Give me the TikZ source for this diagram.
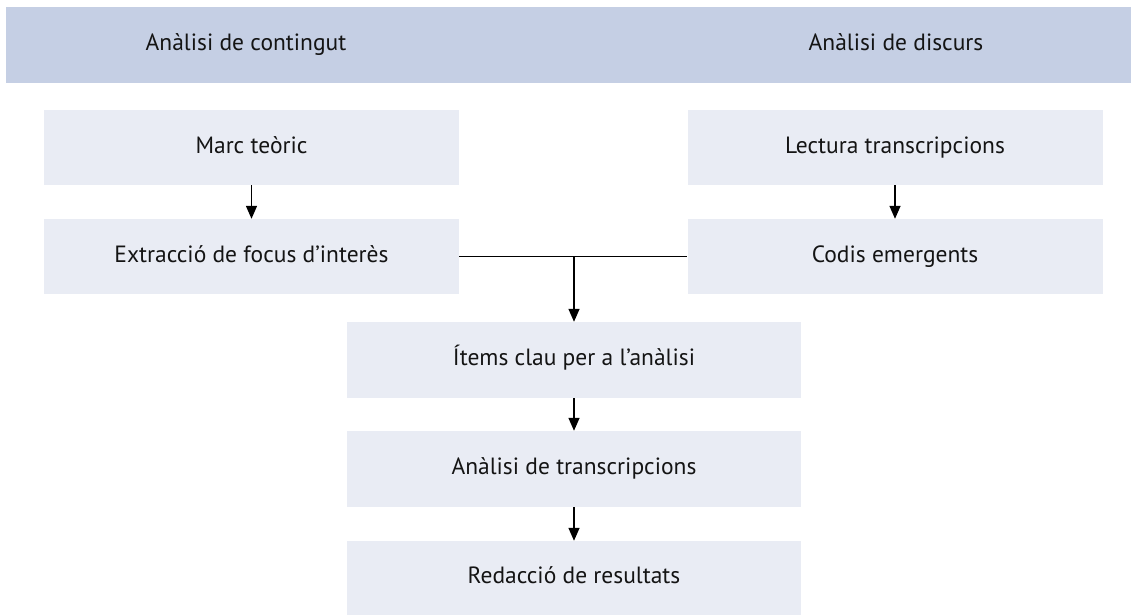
\documentclass[tikz,border=0pt]{standalone}
\usepackage{fontspec}
\setmainfont{PT Sans}
\usetikzlibrary{arrows.meta,calc}
\definecolor{bandblue}{RGB}{197,207,228}
\definecolor{boxgray}{RGB}{233,236,244}
\definecolor{ink}{RGB}{20,20,20}
\tikzset{
  label text/.style={font=\fontsize{23.5}{28}\selectfont, text=ink,
    text height=1.1em, text depth=0pt, inner sep=0pt},
  stepbox/.style={label text, fill=boxgray, minimum height=75pt},
  sidebox/.style={stepbox, minimum width=415pt},
  midbox/.style={stepbox, minimum width=454pt},
  flow/.style={line width=1.4pt, draw=black},
  arr/.style={flow, -{Triangle[length=13pt,width=11pt]}}
}
\begin{document}
\begin{tikzpicture}[x=1pt,y=-1pt]
  \useasboundingbox (0,0) rectangle (1131,615);
  % header band with the two approaches
  \node[fill=bandblue, minimum width=1125pt, minimum height=76pt, inner sep=0pt] (band) at (568.5,45) {};
  \node[label text] (hleft) at (246,45) {Anàlisi de contingut};
  \node[label text] (hright) at (896,45) {Anàlisi de discurs};
  % left column
  \node[sidebox] (marc) at (251.5,147.5) {Marc teòric};
  \node[sidebox] (extr) at (251.5,256.5) {Extracció de focus d’interès};
  % right column
  \node[sidebox] (lect) at (895,147.5) {Lectura transcripcions};
  \node[sidebox] (codis) at (895,256.5) {Codis emergents};
  % central sequence
  \node[midbox, minimum height=76pt] (items) at (574,360) {Ítems clau per a l’anàlisi};
  \node[midbox, minimum height=76pt] (trans) at (574,469) {Anàlisi de transcripcions};
  \node[midbox, minimum height=74pt] (redac) at (574,578) {Redacció de resultats};
  % connectors
  \draw[arr] (marc) -- (extr);
  \draw[arr] (lect) -- (codis);
  \draw[flow] (extr.east) -- (codis.west);
  \coordinate (join) at (items.north |- extr.east);
  \draw[arr] (join) -- (items.north);
  \draw[arr] (items) -- (trans);
  \draw[arr] (trans) -- (redac);
\end{tikzpicture}
\end{document}
